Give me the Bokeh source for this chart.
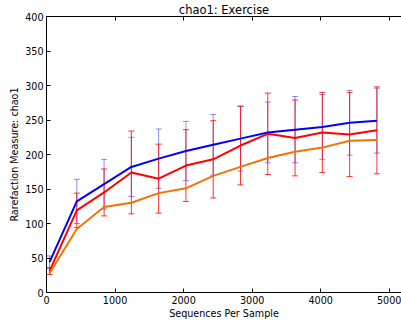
from bokeh.plotting import figure
from bokeh.models import Range1d, LinearAxis, Whisker, ColumnDataSource, TeeHead, FixedTicker
from bokeh.embed import file_html
from bokeh.resources import INLINE

# Data
seqs = [44, 442, 840, 1238, 1636, 2034, 2432, 2830, 3228, 3626, 4024, 4422, 4820]
blue_mean = [44, 132, 157, 182, 194, 205, 214, 223, 232, 236, 240, 246, 249]
blue_std = [9, 32, 36, 43, 43, 43, 44, 47, 44, 48, 47, 47, 47]
red_mean = [31, 119, 145, 174, 165, 184, 193, 213, 230, 224, 232, 229, 235]
red_std = [5, 25, 34, 60, 50, 52, 56, 57, 59, 55, 58, 61, 63]
orange_mean = [28, 92, 124, 130, 144, 151, 169, 182, 195, 204, 210, 220, 221]
x_ticks = [0, 1000, 2000, 3000, 4000, 5000]
y_ticks = [0, 50, 100, 150, 200, 250, 300, 350, 400]

BLUE = "#0000ff"
RED = "#ff0000"
ORANGE = "#f27304"
FONT = "DejaVu Sans"
FS = "9.6px"

p = figure(width=401, height=331, x_range=Range1d(0, 5179), y_range=Range1d(0, 400),
           output_backend="svg", toolbar_location=None, title="chao1: Exercise",
           min_border_left=46, min_border_right=0, min_border_bottom=39, min_border_top=0)
p.outline_line_color = None
p.xgrid.visible = False
p.ygrid.visible = False
p.background_fill_color = "white"
p.border_fill_color = "white"

p.title.text_font = FONT
p.title.text_font_size = "11.5px"
p.title.text_font_style = "normal"
p.title.align = "center"
p.title.text_color = "black"
p.title.standoff = 0

for ax in (p.xaxis[0], p.yaxis[0]):
    ax.major_tick_in = 4
    ax.major_tick_out = 0
    ax.minor_tick_in = 0
    ax.minor_tick_out = 0
    ax.major_label_text_font = FONT
    ax.major_label_text_font_size = FS
    ax.major_label_text_color = "black"
    ax.axis_label_text_font = FONT
    ax.axis_label_text_font_size = FS
    ax.axis_label_text_font_style = "normal"
    ax.axis_label_text_color = "black"
    ax.axis_line_color = "black"
    ax.major_tick_line_color = "black"
    ax.major_label_standoff = 3

p.xaxis.ticker = FixedTicker(ticks=x_ticks)
p.yaxis.ticker = FixedTicker(ticks=y_ticks)
p.xaxis.axis_label = "Sequences Per Sample"
p.yaxis.axis_label = "Rarefaction Measure: chao1"
p.xaxis.axis_label_standoff = 1
p.yaxis.axis_label_standoff = 2

top = LinearAxis(ticker=FixedTicker(ticks=x_ticks), major_label_text_font_size="0px",
                 major_label_text_color=None,
                 major_tick_in=4, major_tick_out=0, minor_tick_in=0, minor_tick_out=0,
                 major_label_standoff=0, axis_line_color="black")
p.add_layout(top, "above")

def add_err(mean, std, color, alpha):
    src = ColumnDataSource(dict(x=seqs,
                                upper=[m + s for m, s in zip(mean, std)],
                                lower=[m - s for m, s in zip(mean, std)]))
    w = Whisker(source=src, base="x", upper="upper", lower="lower",
                line_color=color, line_alpha=alpha, line_width=1, level="underlay",
                upper_head=TeeHead(size=6, line_color=color, line_alpha=alpha, line_width=1),
                lower_head=TeeHead(size=6, line_color=color, line_alpha=alpha, line_width=1))
    p.add_layout(w)

add_err(blue_mean, blue_std, BLUE, 0.45)
add_err(red_mean, red_std, RED, 0.8)

p.line(seqs, blue_mean, line_color=BLUE, line_width=2)
p.line(seqs, red_mean, line_color=RED, line_width=2)
p.line(seqs, orange_mean, line_color=ORANGE, line_width=2)

open("out.html", "w").write(file_html(p, INLINE))
